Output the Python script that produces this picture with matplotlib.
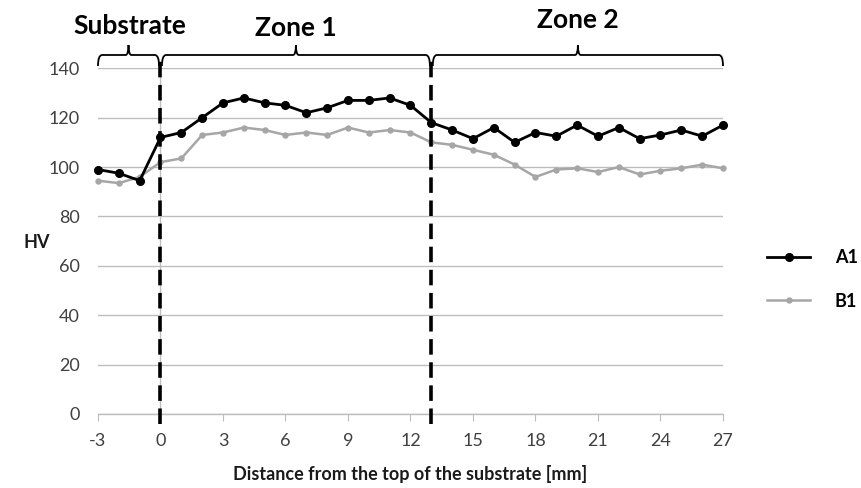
import matplotlib
matplotlib.use("Agg")
import matplotlib.pyplot as plt
from matplotlib.path import Path
from matplotlib.patches import PathPatch
from matplotlib.transforms import blended_transform_factory

plt.rcParams['font.family'] = ['Lato', 'DejaVu Sans']
plt.rcParams['axes.unicode_minus'] = False

distance = list(range(-3, 28))
a1 = [99, 97.5, 94.5, 112, 114, 120, 126, 128, 126, 125, 122, 124, 127, 127, 128, 125,
      118, 115, 111.5, 116, 110, 114, 112.5, 117, 112.5, 116, 111.5, 113, 115, 112.5, 117]
b1 = [94.5, 93.5, 96, 102, 103.5, 113, 114, 116, 115, 113, 114, 113, 116, 114, 115, 114,
      110, 109, 107, 105, 101, 96, 99, 99.5, 98, 100, 97, 98.5, 99.5, 101, 99.5]
series_names = ['A1', 'B1']
zone_bounds = [-3, 0, 13, 27]
zone_names = ['Substrate', 'Zone 1', 'Zone 2']
xticks = list(range(-3, 28, 3))
yticks = list(range(0, 141, 20))

fig = plt.figure(figsize=(8.62, 4.88), dpi=100)
ax = fig.add_axes([98/862, 1-414/488, 625/862, 345.7/488])

ax.plot(distance, a1, color='black', lw=2.0, marker='o', ms=5.5, label=series_names[0],
        zorder=4, clip_on=False)
ax.plot(distance, b1, color='#A6A6A6', lw=1.8, marker='o', ms=3.6, label=series_names[1],
        zorder=3, clip_on=False)

ax.set_xlim(-3, 27)
ax.set_ylim(0, 140)
ax.set_xticks(xticks)
ax.set_yticks(yticks)
ax.grid(axis='y', color='#BDBDBD', lw=1.0)
ax.set_axisbelow(True)
for s in ['top', 'right', 'left']:
    ax.spines[s].set_visible(False)
ax.spines['bottom'].set_color('#BDBDBD')
ax.spines['bottom'].set_linewidth(1.0)
ax.axvline(0, color='#BDBDBD', lw=1.0, zorder=1)
ax.tick_params(axis='x', length=5, color='#BDBDBD', pad=9, labelsize=13, labelcolor='#404040')
ax.tick_params(axis='y', length=0, pad=13, labelsize=13, labelcolor='#404040')

ax.set_xlabel('Distance from the top of the substrate [mm]', fontsize=13,
              fontweight='bold', labelpad=11, color='#1a1a1a')
fig.text(37/862, 1-242/488, 'HV', fontsize=13, fontweight='bold', ha='center', va='center',
         color='#1a1a1a')

trans = blended_transform_factory(ax.transData, ax.transAxes)
for xb in zone_bounds[1:3]:
    ax.plot([xb, xb], [-0.028, 1.03], transform=trans, color='black', lw=2.6,
            dashes=(4.3, 2.1), clip_on=False, zorder=5)

y_end, y_line, y_tip = 1.0067, 1.0385, 1.0674
def brace(x0, x1, r=0.2, rt=0.14):
    mid = (x0 + x1) / 2
    verts = [(x0, y_end), (x0, y_line), (x0 + r, y_line),
             (mid - rt, y_line), (mid, y_line), (mid, y_tip),
             (mid, y_line), (mid + rt, y_line),
             (x1 - r, y_line), (x1, y_line), (x1, y_end)]
    codes = [Path.MOVETO, Path.CURVE3, Path.CURVE3,
             Path.LINETO, Path.CURVE3, Path.CURVE3,
             Path.CURVE3, Path.CURVE3,
             Path.LINETO, Path.CURVE3, Path.CURVE3]
    p = PathPatch(Path(verts, codes), transform=trans, fill=False, lw=1.3,
                  edgecolor='black', clip_on=False, zorder=6)
    ax.add_patch(p)

gaps = [(0, -0.07), (0.07, -0.07), (0.07, 0)]
label_y = [26, 28, 20]
for i, name in enumerate(zone_names):
    x0 = zone_bounds[i] + gaps[i][0]
    x1 = zone_bounds[i + 1] + gaps[i][1]
    brace(x0, x1)
    xc = (x0 + x1) / 2 if i else -1.46
    ax.text(xc, (414 - label_y[i]) / 345.7, name, transform=trans, ha='center', va='center',
            fontsize=19, fontweight='bold', color='black', clip_on=False)

leg = fig.legend(loc='center left', bbox_to_anchor=(767/862, 1-279.5/488), frameon=False,
                 borderpad=0, borderaxespad=0, handlelength=2.4, handletextpad=1.35,
                 labelspacing=1.45, prop={'weight': 'bold', 'size': 13})

fig.savefig('out.png', dpi=100)
